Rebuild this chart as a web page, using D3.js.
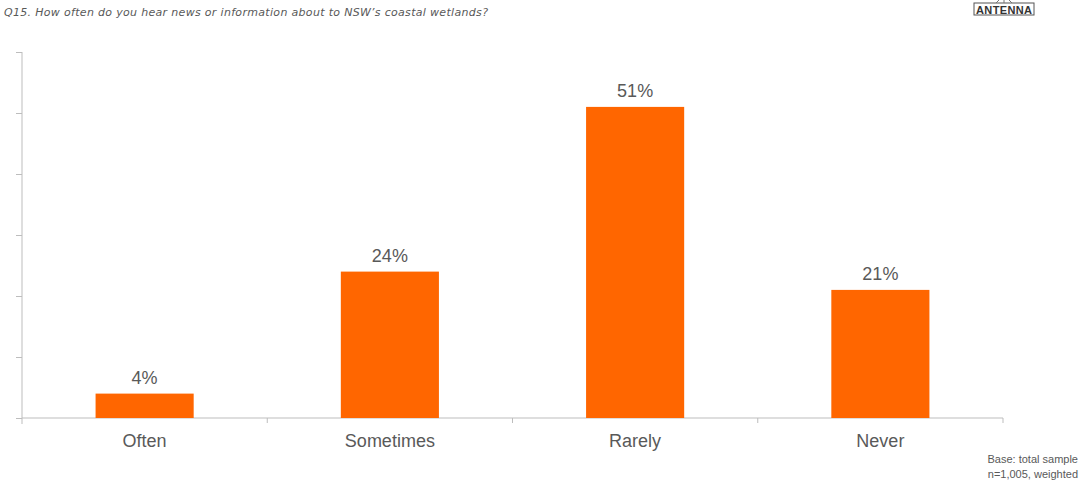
<!DOCTYPE html>
<html>
<head>
<meta charset="utf-8">
<script src="https://cdn.jsdelivr.net/npm/d3@7"></script>
<style>
body { margin: 0; background: #fff; }
svg { display: block; font-family: "Liberation Sans", Arial, sans-serif; }
</style>
</head>
<body>
<svg></svg>
<script>
var categories = ['Often', 'Sometimes', 'Rarely', 'Never']
var values = [4, 24, 51, 21]
var yTicks = [0, 10, 20, 30, 40, 50, 60]

var width = 1084
var height = 492
var margin = {top: 52, left: 22, right: 81, bottom: 74}

var svg = d3.select('svg').attr('width', width).attr('height', height)

var x = d3.scaleBand()
	.domain(categories)
	.range([margin.left, width - margin.right])
	.paddingInner(0.6)
	.paddingOuter(0.3)

var y = d3.scaleLinear()
	.domain([0, 60])
	.range([height - margin.bottom, margin.top])

var axisColor = '#bdbdbd'

// title
svg.append('text')
	.attr('x', 4).attr('y', 16)
	.attr('font-family', '"DejaVu Sans", sans-serif')
	.attr('font-size', 11)
	.attr('font-style', 'italic')
	.attr('fill', '#595959')
	.attr('textLength', 484)
	.text('Q15. How often do you hear news or information about to NSW\u2019s coastal wetlands?')

// logo
var logo = svg.append('g').attr('transform', 'translate(974,3)')
logo.append('rect').attr('width', 60).attr('height', 12)
	.attr('fill', '#fff').attr('stroke', '#555').attr('stroke-width', 1)
logo.append('text').attr('x', 30).attr('y', 10.5)
	.attr('text-anchor', 'middle').attr('font-size', 11).attr('font-weight', 'bold')
	.attr('fill', '#333').attr('textLength', 56)
	.text('ANTENNA')
logo.append('path').attr('d', 'M22,0 L25,-3 M30,0 L30,-3 M38,0 L35,-3')
	.attr('stroke', '#777').attr('stroke-width', 1)

// y axis
var yAxis = svg.append('g')
	.attr('transform', 'translate(' + margin.left + ',0)')
	.call(d3.axisLeft(y).tickValues(yTicks).tickSize(6).tickFormat(''))
yAxis.select('.domain').attr('stroke', axisColor).attr('d', 'M0,' + margin.top + 'V' + (height - margin.bottom + 6))
yAxis.selectAll('.tick line').attr('stroke', axisColor)

// x axis
var bounds = [margin.left].concat(categories.map(function(c) {
	return x(c) + x.bandwidth() / 2 + x.step() / 2
}))
var xAxis = svg.append('g').attr('transform', 'translate(0,' + y(0) + ')')
xAxis.append('line')
	.attr('x1', margin.left).attr('x2', width - margin.right)
	.attr('stroke', axisColor)
xAxis.selectAll('.xtick').data(bounds.slice(1)).enter().append('line')
	.attr('x1', function(d) {return d}).attr('x2', function(d) {return d})
	.attr('y1', 0).attr('y2', 5)
	.attr('stroke', axisColor)
xAxis.selectAll('.xlabel').data(categories).enter().append('text')
	.attr('x', function(d) {return x(d) + x.bandwidth() / 2})
	.attr('y', 29)
	.attr('text-anchor', 'middle')
	.attr('font-size', 18)
	.attr('fill', '#595959')
	.text(function(d) {return d})

// bars
svg.append('g').selectAll('rect')
	.data(values)
	.enter().append('rect')
	.attr('x', function(d, i) {return x(categories[i])})
	.attr('y', function(d) {return y(d)})
	.attr('width', x.bandwidth())
	.attr('height', function(d) {return y(0) - y(d)})
	.attr('fill', '#ff6600')

// value labels
svg.append('g').selectAll('text')
	.data(values)
	.enter().append('text')
	.attr('x', function(d, i) {return x(categories[i]) + x.bandwidth() / 2})
	.attr('y', function(d) {return y(d) - 10})
	.attr('text-anchor', 'middle')
	.attr('font-size', 18)
	.attr('fill', '#595959')
	.text(function(d) {return d + '%'})

// footnote
var foot = svg.append('text')
	.attr('text-anchor', 'end')
	.attr('font-size', 11)
	.attr('fill', '#595959')
foot.append('tspan').attr('x', 1078).attr('y', 463).text('Base: total sample')
foot.append('tspan').attr('x', 1078).attr('y', 478).text('n=1,005, weighted')
</script>
</body>
</html>
